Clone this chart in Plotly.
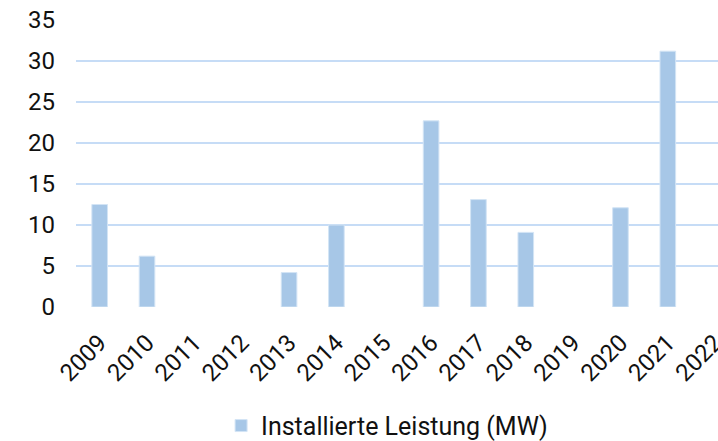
import plotly.graph_objects as go

years = ["2009", "2010", "2011", "2012", "2013", "2014", "2015",
         "2016", "2017", "2018", "2019", "2020", "2021", "2022"]
leistung_mw = [12.5, 6.2, None, None, 4.2, 10.0, None,
               22.7, 13.1, 9.1, None, 12.1, 31.2, None]
y_ticks = [0, 5, 10, 15, 20, 25, 30, 35]

FONT = "Roboto, sans-serif"

fig = go.Figure()
fig.add_trace(go.Bar(
    x=years, y=leistung_mw, name="Installierte Leistung (MW)",
    marker=dict(color="#a7c7e7", line=dict(color="#d3e4f5", width=1)),
    width=0.33,
))

fig.update_layout(
    width=718, height=441,
    margin=dict(l=76, r=0, t=20, b=134, autoexpand=False),
    plot_bgcolor="white", paper_bgcolor="white",
    font=dict(family=FONT, size=24, color="#111111"),
    showlegend=True,
    legend=dict(orientation="h", x=0.226, xanchor="left", y=-0.414, yanchor="middle",
                font=dict(size=25), itemwidth=30),
)
fig.update_xaxes(
    type="category", range=[-0.5, 13.06], tickangle=-45, automargin=False,
    showgrid=False, showline=False, ticks="", ticklabelstandoff=16,
)
fig.update_yaxes(
    range=[0, 35], tickvals=y_ticks, showgrid=True, gridcolor="#c6dcf6", gridwidth=2,
    zeroline=False, showline=False, ticks="", ticklabelstandoff=20, automargin=False,
)

fig.write_html("out.html", config={"displayModeBar": False},
               post_script="document.body.style.margin='0';")
